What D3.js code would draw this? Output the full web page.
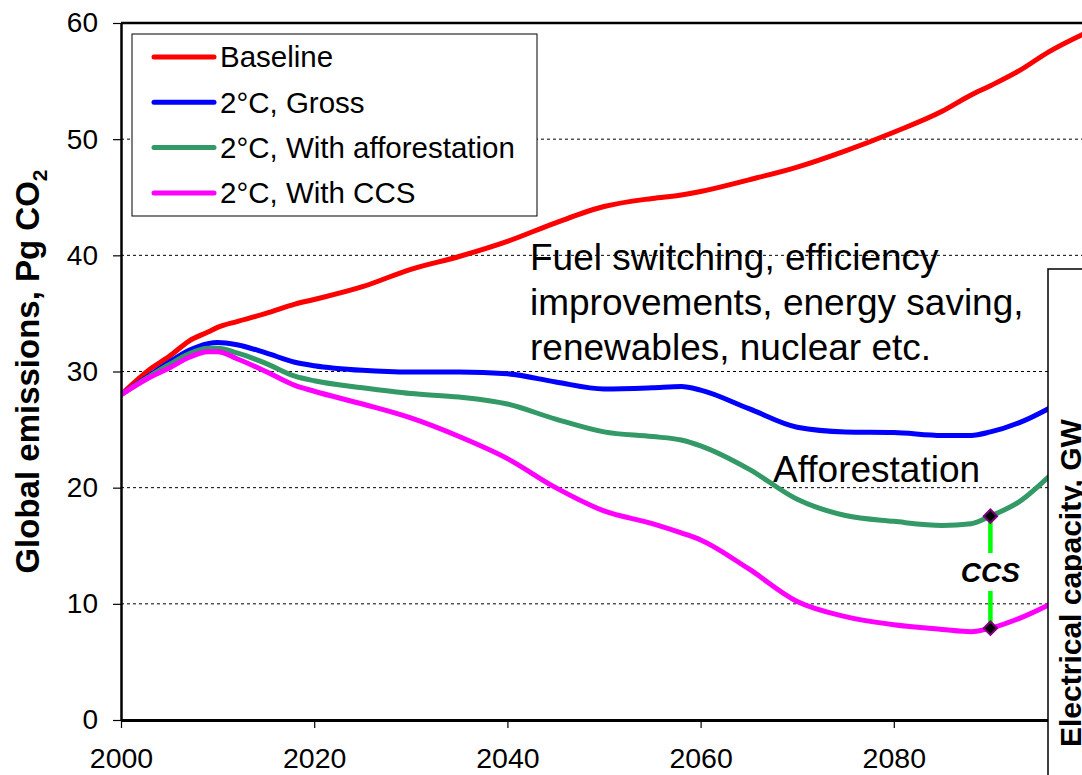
<!DOCTYPE html>
<html>
<head>
<meta charset="utf-8">
<script src="https://cdn.jsdelivr.net/npm/d3@7"></script>
<style>
  body { margin: 0; background: #fff; }
  svg { display: block; font-family: "Liberation Sans", Arial, sans-serif; }
</style>
</head>
<body>
<svg id="chart" width="1082" height="775"></svg>
<script>
// data (Pg CO2 per year)
const years = [2000, 2003, 2005, 2007, 2009, 2010, 2012, 2015, 2018, 2020, 2025, 2030, 2035, 2040, 2045,
  2050, 2055, 2058, 2060, 2065, 2070, 2075, 2080, 2085, 2088, 2090, 2093, 2096, 2100];
const baseline = [28, 30.2, 31.3, 32.6, 33.4, 33.8, 34.3, 35.0, 35.8, 36.2, 37.3, 38.8, 39.9, 41.2, 42.8,
  44.2, 44.9, 45.2, 45.5, 46.5, 47.6, 49.0, 50.6, 52.4, 53.8, 54.6, 55.9, 57.5, 59.2];
const gross = [28, 29.7, 30.8, 31.8, 32.4, 32.5, 32.3, 31.6, 30.8, 30.5, 30.1, 29.95, 29.95, 29.8, 29.1,
  28.5, 28.6, 28.7, 28.4, 26.8, 25.2, 24.8, 24.75, 24.5, 24.5, 24.8, 25.6, 26.8, 28.8];
const afforestation = [28, 29.6, 30.6, 31.5, 32.0, 32.0, 31.6, 30.7, 29.6, 29.2, 28.6, 28.1, 27.8, 27.2, 25.9,
  24.8, 24.4, 24.1, 23.6, 21.6, 19.0, 17.6, 17.1, 16.75, 16.9, 17.55, 18.8, 20.9, 24.0];
const withCCS = [28, 29.5, 30.3, 31.2, 31.7, 31.7, 31.1, 30.0, 28.8, 28.3, 27.2, 26.0, 24.4, 22.5, 20.0,
  18.0, 16.9, 16.1, 15.5, 13.0, 10.2, 8.9, 8.2, 7.8, 7.6, 7.9, 8.75, 9.9, 11.8];

const seriesNames = ["Baseline", "2°C, Gross", "2°C, With afforestation", "2°C, With CCS"];
const seriesColors = ["#ff0000", "#0000ff", "#339966", "#ff00ff"];
const seriesValues = [baseline, gross, afforestation, withCCS];

const yTicks = [0, 10, 20, 30, 40, 50, 60];
const xTicks = [2000, 2020, 2040, 2060, 2080, 2100];
const ccsYear = 2090;
const annotationLines = ["Fuel switching, efficiency", "improvements, energy saving,", "renewables, nuclear etc."];

const svg = d3.select("#chart");
const x = d3.scaleLinear().domain([2000, 2100]).range([121, 1087]);
const y = d3.scaleLinear().domain([0, 60]).range([720, 23]);

// dotted gridlines
svg.append("g")
  .selectAll("line")
  .data(yTicks.filter(d => d > 0 && d < 60))
  .join("line")
  .attr("x1", x(2000)).attr("x2", x(2100))
  .attr("y1", d => y(d)).attr("y2", d => y(d))
  .attr("stroke", "#000").attr("stroke-width", 1)
  .attr("stroke-dasharray", "3,3");

// top frame
svg.append("line")
  .attr("x1", x(2000)).attr("x2", x(2100))
  .attr("y1", y(60)).attr("y2", y(60))
  .attr("stroke", "#000").attr("stroke-width", 2.5);

svg.append("clipPath").attr("id", "plot")
  .append("rect").attr("x", x(2000)).attr("y", y(60))
  .attr("width", x(2100) - x(2000)).attr("height", y(0) - y(60));

const line = d3.line()
  .x((d, i) => x(years[i]))
  .y(d => y(d))
  .curve(d3.curveMonotoneX);

svg.append("g")
  .attr("clip-path", "url(#plot)")
  .selectAll("path")
  .data(seriesValues)
  .join("path")
  .attr("d", d => line(d))
  .attr("fill", "none")
  .attr("stroke", (d, i) => seriesColors[i])
  .attr("stroke-width", 5)
  .attr("stroke-linejoin", "round");

// axes
const yAxis = svg.append("g")
  .attr("transform", `translate(${x(2000)},0)`)
  .call(d3.axisLeft(y).tickValues(yTicks).tickSize(8).tickSizeOuter(0).tickPadding(15));
yAxis.select(".domain").attr("stroke-width", 2.5);
yAxis.selectAll(".tick line").attr("stroke-width", 1.2);
yAxis.selectAll("text").attr("font-size", 28).attr("font-family", "Liberation Sans, Arial, sans-serif").attr("fill", "#000");

const xAxis = svg.append("g")
  .attr("transform", `translate(0,${y(0)})`)
  .call(d3.axisBottom(x).tickValues(xTicks).tickFormat(d3.format("d")).tickSize(8).tickSizeOuter(0).tickPadding(20));
xAxis.select(".domain").attr("stroke-width", 3);
xAxis.selectAll(".tick line").attr("stroke-width", 1.2);
xAxis.selectAll("text").attr("font-size", 28.5).attr("font-family", "Liberation Sans, Arial, sans-serif").attr("fill", "#000");

// y axis title
const yTitle = svg.append("text")
  .attr("transform", `translate(39,${(y(0) + y(60)) / 2}) rotate(-90)`)
  .attr("text-anchor", "middle")
  .attr("font-size", 33).attr("font-weight", "bold");
yTitle.append("tspan").text("Global emissions, Pg CO");
yTitle.append("tspan").attr("font-size", 21).attr("dy", 8).text("2");

// legend
const legend = svg.append("g");
legend.append("rect")
  .attr("x", 132).attr("y", 34).attr("width", 405).attr("height", 182)
  .attr("fill", "#fff").attr("stroke", "#000").attr("stroke-width", 1);
const item = legend.selectAll("g.item")
  .data(seriesNames)
  .join("g").attr("class", "item")
  .attr("transform", (d, i) => `translate(0,${57 + i * 45.3})`);
item.append("line")
  .attr("x1", 154).attr("x2", 214)
  .attr("stroke", (d, i) => seriesColors[i])
  .attr("stroke-width", 5).attr("stroke-linecap", "round");
item.append("text")
  .attr("x", 220).attr("dy", "0.35em")
  .attr("font-size", 29.5)
  .text(d => d);

// annotations
svg.append("text")
  .attr("font-size", 37)
  .selectAll("tspan")
  .data(annotationLines)
  .join("tspan")
  .attr("x", 530).attr("y", (d, i) => 270 + i * 45)
  .text(d => d);

svg.append("text")
  .attr("x", 773).attr("y", 482)
  .attr("font-size", 37)
  .text("Afforestation");

// CCS gap marker
const cx = x(ccsYear);
const yTop = y(afforestation[years.indexOf(ccsYear)]);
const yBot = y(withCCS[years.indexOf(ccsYear)]);
svg.append("line")
  .attr("x1", cx).attr("x2", cx).attr("y1", yTop).attr("y2", 553)
  .attr("stroke", "#00ff00").attr("stroke-width", 4.5);
svg.append("line")
  .attr("x1", cx).attr("x2", cx).attr("y1", 591).attr("y2", yBot)
  .attr("stroke", "#00ff00").attr("stroke-width", 4.5);
svg.append("text")
  .attr("x", cx).attr("y", 582)
  .attr("text-anchor", "middle")
  .attr("font-size", 28).attr("font-weight", "bold").attr("font-style", "italic")
  .text("CCS");
svg.selectAll("path.mark")
  .data([yTop, yBot])
  .join("path").attr("class", "mark")
  .attr("d", d3.symbol(d3.symbolSquare, 90))
  .attr("transform", d => `translate(${cx},${d}) rotate(45)`)
  .attr("fill", "#000").attr("stroke", "#800080").attr("stroke-width", 2);

// neighbouring panel that overlaps the right edge
svg.append("rect")
  .attr("x", 1048).attr("y", 269).attr("width", 100).attr("height", 600)
  .attr("fill", "#fff").attr("stroke", "#000").attr("stroke-width", 1.5);
svg.append("text")
  .attr("transform", "translate(1081,747) rotate(-90)")
  .attr("font-size", 30).attr("font-weight", "bold")
  .text("Electrical capacity, GW");
</script>
</body>
</html>
